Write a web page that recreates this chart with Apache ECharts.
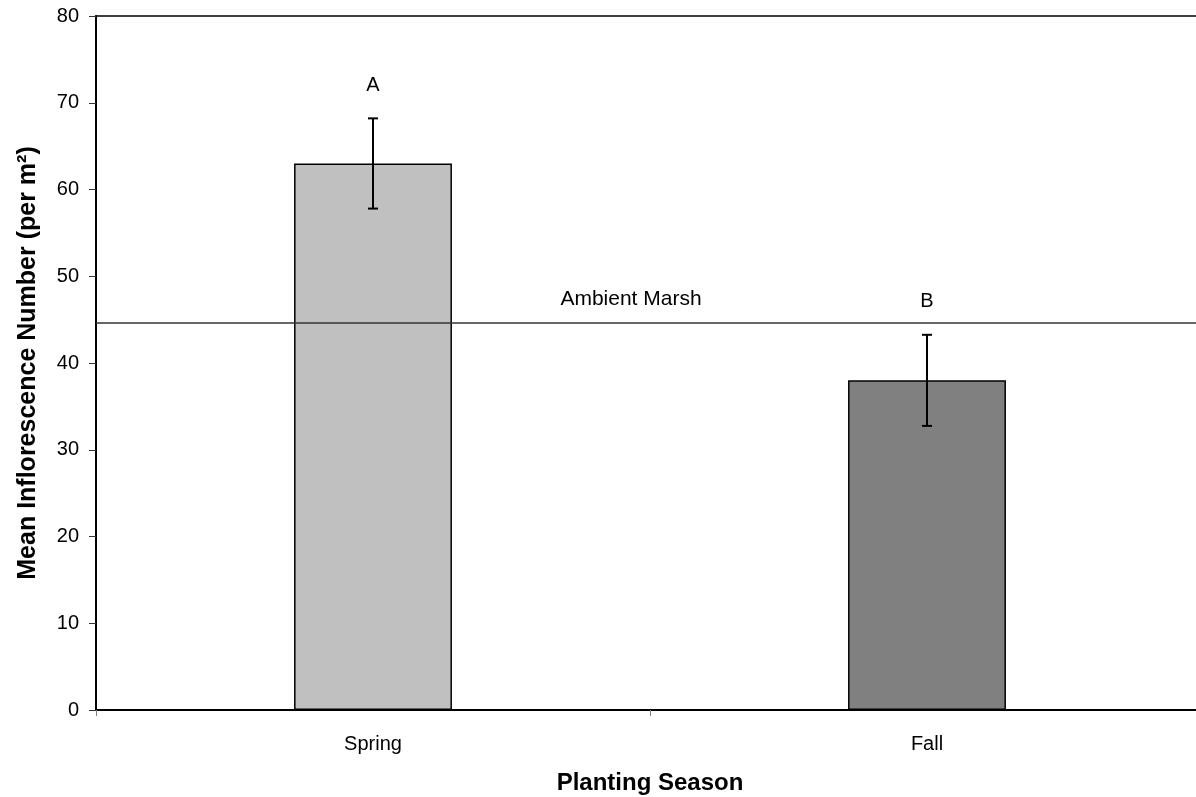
<!DOCTYPE html>
<html>
<head>
<meta charset="utf-8">
<script src="https://cdn.jsdelivr.net/npm/echarts@6/dist/echarts.min.js"></script>
<style>
  html, body { margin: 0; padding: 0; background: #fff; overflow: hidden; }
  #chart { width: 1212px; height: 797px; }
</style>
</head>
<body>
<div id="chart"></div>
<script>
// Planting season means with standard errors and significance letters
const seasons = ['Spring', 'Fall'];
const meanValues = [63.0, 38.0];
const errorValues = [5.2, 5.25];
const sigLetters = ['A', 'B'];
const barColors = ['#c0c0c0', '#808080'];
const ambientMarsh = 44.65;
const yTicks = { min: 0, max: 80, interval: 10 };

const FONT = 'Liberation Sans, Arial, sans-serif';

const chart = echarts.init(document.getElementById('chart'));

const errorData = seasons.map((s, i) => [i, meanValues[i] - errorValues[i], meanValues[i] + errorValues[i]]);

chart.setOption({
  animation: false,
  backgroundColor: '#fff',
  grid: {
    left: 96, top: 16, right: 8, bottom: 87,
    outerBoundsMode: 'none',
    show: true, borderColor: '#000', borderWidth: 1.5, backgroundColor: 'transparent'
  },
  xAxis: {
    type: 'category',
    data: seasons,
    name: 'Planting Season',
    nameLocation: 'middle',
    nameGap: 61,
    nameTextStyle: { fontFamily: FONT, fontSize: 24, fontWeight: 'bold', color: '#000' },
    axisLine: { lineStyle: { color: '#000', width: 2 } },
    axisTick: { show: true, length: 6, inside: false, lineStyle: { color: '#808080' } },
    axisLabel: { fontFamily: FONT, fontSize: 20, color: '#000', margin: 24 },
    splitLine: { show: false }
  },
  yAxis: {
    type: 'value',
    min: yTicks.min, max: yTicks.max, interval: yTicks.interval,
    name: 'Mean Inflorescence Number (per m²)',
    nameLocation: 'middle',
    nameGap: 55,
    nameTextStyle: { fontFamily: FONT, fontSize: 25, fontWeight: 'bold', color: '#000' },
    axisLine: { show: true, lineStyle: { color: '#000', width: 2 } },
    axisTick: { show: true, length: 7, lineStyle: { color: '#333' } },
    axisLabel: { fontFamily: FONT, fontSize: 20, color: '#000', margin: 17 },
    splitLine: { show: false }
  },
  series: [
    {
      type: 'bar',
      barWidth: '28.5%',
      data: meanValues.map((v, i) => ({ value: v, itemStyle: { color: barColors[i] } })),
      itemStyle: { borderColor: '#000', borderWidth: 1.5 },
      markLine: {
        silent: true,
        symbol: 'none',
        lineStyle: { color: '#333', width: 1.5, type: 'solid' },
        label: {
          show: true,
          position: 'insideMiddleTop',
          formatter: 'Ambient Marsh',
          fontFamily: FONT, fontSize: 21, color: '#000',
          distance: 13,
          offset: [-19, 0]
        },
        data: [{ yAxis: ambientMarsh }]
      }
    },
    {
      type: 'custom',
      data: errorData,
      z: 5,
      renderItem: function (params, api) {
        const x = api.coord([api.value(0), 0])[0];
        const lo = api.coord([api.value(0), api.value(1)])[1];
        const hi = api.coord([api.value(0), api.value(2)])[1];
        const cap = 5;
        const style = { stroke: '#000', lineWidth: 2 };
        return {
          type: 'group',
          children: [
            { type: 'line', shape: { x1: x, y1: hi, x2: x, y2: lo }, style },
            { type: 'line', shape: { x1: x - cap, y1: hi, x2: x + cap, y2: hi }, style },
            { type: 'line', shape: { x1: x - cap, y1: lo, x2: x + cap, y2: lo }, style },
            {
              type: 'text',
              style: {
                text: sigLetters[params.dataIndex],
                x: x, y: hi - 33,
                align: 'center', verticalAlign: 'middle',
                font: '20px ' + FONT, fill: '#000'
              }
            }
          ]
        };
      }
    }
  ]
});
</script>
</body>
</html>
